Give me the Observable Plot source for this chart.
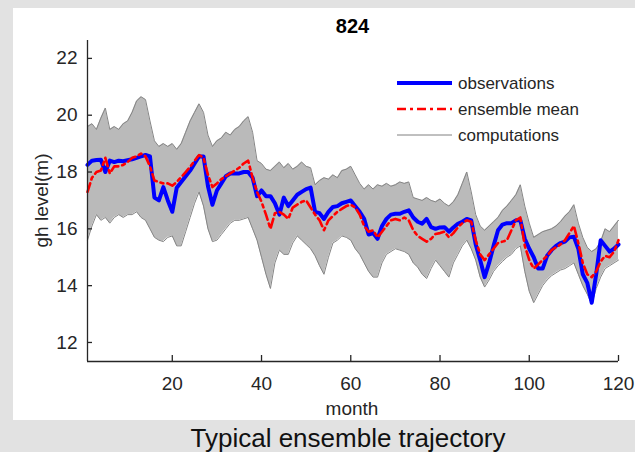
<!DOCTYPE html>
<html>
<head>
<meta charset="utf-8">
<script src="https://cdn.jsdelivr.net/npm/d3@7"></script>
<script src="https://cdn.jsdelivr.net/npm/@observablehq/plot@0.6"></script>
<style>
  body { margin: 0; background: #e2e2e2; }
  #wrap { position: relative; width: 635px; height: 452px; font-family: "Liberation Sans", Arial, sans-serif; }
  #panel { position: absolute; left: 13px; top: 8px; width: 622px; height: 412px; background: #fff; }
  #chart { position: absolute; left: 0; top: 0; }
  #overlay { position: absolute; left: 0; top: 0; pointer-events: none; }
</style>
</head>
<body>
<div id="wrap">
  <div id="panel"></div>
  <div id="chart"></div>
  <svg id="overlay" width="635" height="452" font-family="Liberation Sans, Arial, sans-serif">
    <text x="352.5" y="33" text-anchor="middle" font-size="20" font-weight="bold" fill="#000">824</text>
    <text transform="translate(41,200.5) rotate(-90)" text-anchor="middle" dominant-baseline="central" font-size="19" fill="#262626">gh level(m)</text>
    <text x="352" y="415" text-anchor="middle" font-size="19" fill="#262626">month</text>
    <g id="legend" font-size="17" fill="#262626"></g>
    <text x="348" y="447" text-anchor="middle" font-size="26" fill="#111">Typical ensemble trajectory</text>
  </svg>
</div>
<script>
const months = d3.range(1, 121);

const observations = [
  18.25, 18.40, 18.42, 18.43, 18.00, 18.40, 18.35, 18.40, 18.38, 18.42,
  18.45, 18.50, 18.55, 18.60, 18.55, 17.10, 17.00, 17.47, 17.00, 16.60,
  17.45, 17.65, 17.85, 18.05, 18.30, 18.55, 18.55, 17.50, 16.85, 17.35,
  17.60, 17.85, 17.95, 17.95, 17.95, 18.00, 18.00, 17.80, 17.15, 17.35,
  17.15, 17.15, 16.90, 16.50, 17.10, 16.80, 17.00, 17.20, 17.30, 17.40,
  17.45, 16.60, 16.55, 16.35, 16.60, 16.77, 16.80, 16.90, 16.95, 17.00,
  16.80, 16.60, 16.35, 15.80, 15.85, 15.65, 16.10, 16.35, 16.50, 16.53,
  16.53, 16.60, 16.65, 16.40, 16.25, 16.18, 16.35, 16.06, 16.00, 16.05,
  16.06, 15.90, 16.05, 16.18, 16.25, 16.35, 16.30, 15.45, 14.90, 14.30,
  14.80, 15.40, 15.95, 16.15, 16.20, 16.20, 16.30, 16.30, 15.65, 15.30,
  15.00, 14.60, 14.60, 15.05, 15.25, 15.40, 15.50, 15.55, 15.70, 15.72,
  15.30, 14.40, 14.10, 13.40, 14.40, 15.60, 15.40, 15.20, 15.30, 15.45
];

const ensembleMean = [
  17.30, 17.80, 18.00, 18.05, 18.50, 17.95, 18.20, 18.20, 18.25, 18.35,
  18.50, 18.55, 18.65, 18.55, 18.20, 17.70, 17.65, 17.60, 17.60, 17.52,
  17.65, 17.82, 18.00, 18.18, 18.40, 18.60, 18.50, 17.90, 17.47, 17.60,
  17.75, 17.85, 17.95, 18.05, 18.15, 18.30, 18.40, 17.80, 17.30, 16.95,
  16.50, 16.00, 16.55, 16.60, 16.50, 16.35, 16.75, 16.85, 16.95, 17.00,
  16.75, 16.50, 16.30, 15.95, 16.30, 16.45, 16.60, 16.70, 16.80, 16.85,
  16.75, 16.50, 16.10, 15.90, 15.95, 15.70, 15.90, 16.10, 16.30, 16.35,
  16.30, 16.40, 16.30, 15.95, 15.75, 15.65, 15.55, 15.65, 15.82, 15.85,
  15.90, 15.70, 15.85, 16.05, 16.20, 16.30, 16.25, 15.60, 15.10, 14.90,
  15.10, 15.30, 15.50, 15.55, 15.60, 15.95, 16.30, 16.40, 15.40, 14.90,
  14.60, 14.75, 14.90, 15.05, 15.25, 15.35, 15.45, 15.60, 15.85, 16.10,
  15.50, 14.80, 14.40, 14.30, 14.50, 14.85, 15.05, 15.00, 15.20, 15.60
];

// envelope of the computations (ensemble members)
const computationsUpper = [
  19.60, 19.70, 19.50, 19.90, 20.25, 19.50, 19.60, 19.50, 19.70, 19.80,
  20.10, 20.50, 20.65, 20.55, 19.80, 19.10, 18.90, 19.00, 18.90, 19.00,
  18.80, 19.00, 19.40, 19.80, 20.10, 20.40, 20.10, 19.30, 18.90, 19.10,
  19.20, 19.40, 19.30, 19.50, 19.60, 19.80, 19.95, 19.40, 18.40, 18.30,
  18.10, 18.05, 18.20, 18.35, 18.15, 18.30, 18.10, 18.20, 18.35, 18.20,
  18.15, 17.55, 17.70, 17.80, 17.75, 17.90, 17.80, 18.05, 18.10, 18.20,
  17.90, 17.60, 17.40, 17.55, 17.40, 17.55, 17.50, 17.60, 17.50, 17.55,
  17.65, 17.60, 17.65, 17.10, 17.05, 17.00, 17.10, 17.00, 16.95, 17.05,
  16.90, 16.80, 16.95, 17.20, 17.60, 18.00, 17.30, 16.50, 16.10, 15.95,
  16.10, 16.25, 16.40, 16.65, 16.80, 17.00, 17.20, 17.55, 16.80, 16.20,
  15.70, 15.80, 15.90, 15.95, 16.00, 16.10, 16.25, 16.45, 16.60, 16.85,
  16.20, 15.70, 15.35, 15.20, 15.30, 15.55, 16.00, 15.90, 16.10, 16.30
];

const computationsLower = [
  15.60, 16.10, 16.50, 16.30, 16.40, 16.20, 16.40, 16.50, 16.40, 16.50,
  16.50, 16.60, 16.40, 16.30, 16.00, 15.70, 15.60, 15.55, 15.70, 15.75,
  15.40, 15.40, 15.90, 16.40, 16.90, 17.30, 16.80, 16.00, 15.55, 15.60,
  15.80, 16.00, 16.20, 16.30, 16.30, 16.35, 16.40, 16.00, 15.60, 15.00,
  14.40, 13.90, 14.80, 15.25, 15.10, 15.10, 15.50, 15.75, 15.60, 15.45,
  15.30, 15.05, 14.70, 14.40, 15.00, 15.50, 15.60, 15.75, 15.70, 15.60,
  15.30, 15.10, 14.80, 14.50, 14.30, 14.30, 14.80, 15.10, 15.20, 15.30,
  15.25, 15.20, 15.10, 14.80, 14.65, 14.40, 14.25, 14.60, 14.90, 14.70,
  14.50, 14.30, 14.80, 15.10, 15.40, 15.60, 15.30, 14.90, 14.30, 13.95,
  14.20, 14.50, 14.70, 14.85, 15.00, 15.10, 15.30, 15.40, 14.50, 13.80,
  13.40, 13.70, 14.00, 14.20, 14.35, 14.45, 14.55, 14.60, 14.70, 14.80,
  14.40, 14.00, 13.70, 13.35, 13.90, 14.30, 14.60, 14.70, 14.80, 14.90
];

const xTicks = [20, 40, 60, 80, 100, 120];
const yTicks = [12, 14, 16, 18, 20, 22];
const legendLabels = ["observations", "ensemble mean", "computations"];

const rows = months.map((m, i) => ({
  m,
  obs: observations[i],
  mean: ensembleMean[i],
  hi: computationsUpper[i],
  lo: computationsLower[i]
}));

const axisColor = "#262626";
const yMin = 11.33, yMax = 22.63;
const meanDash = "9,4,3,4";

const chart = Plot.plot({
  width: 635,
  height: 420,
  marginLeft: 87,
  marginRight: 17,
  marginTop: 40,
  marginBottom: 59,
  style: { background: "transparent", fontFamily: "Liberation Sans, Arial, sans-serif", fontSize: "19px", color: axisColor },
  x: { domain: [1, 120] },
  y: { domain: [yMin, yMax] },
  marks: [
    Plot.areaY(rows, { x: "m", y1: "lo", y2: "hi", fill: "#bababa" }),
    Plot.line(rows, { x: "m", y: "hi", stroke: "#858585", strokeWidth: 1 }),
    Plot.line(rows, { x: "m", y: "lo", stroke: "#858585", strokeWidth: 1 }),
    Plot.line(rows, { x: "m", y: "obs", stroke: "#0000ff", strokeWidth: 4, strokeLinejoin: "round" }),
    Plot.line(rows, { x: "m", y: "mean", stroke: "#ff0000", strokeWidth: 2.6, strokeDasharray: meanDash }),
    Plot.ruleX([1], { stroke: axisColor, strokeWidth: 1.3 }),
    Plot.ruleY([yMin], { stroke: axisColor, strokeWidth: 1.3 }),
    Plot.ruleX(xTicks, { stroke: axisColor, strokeWidth: 1.3, insetTop: 315 }),
    Plot.ruleY(yTicks, { stroke: axisColor, strokeWidth: 1.3, insetRight: 526 }),
    Plot.axisX({ ticks: xTicks, tickSize: 0, tickPadding: 15, label: null, fill: axisColor }),
    Plot.axisY({ ticks: yTicks, tickSize: 0, tickPadding: 10, label: null, fill: axisColor })
  ]
});
document.getElementById("chart").appendChild(chart);

// legend (drawn outside the plot scales)
const legendStyles = [
  { stroke: "#0000ff", width: 4, dash: null },
  { stroke: "#ff0000", width: 2.6, dash: meanDash },
  { stroke: "#808080", width: 1, dash: null }
];
const lg = d3.select("#legend");
legendLabels.forEach((t, i) => {
  const y = 83 + i * 26;
  lg.append("line").attr("x1", 397).attr("x2", 452).attr("y1", y).attr("y2", y)
    .attr("stroke", legendStyles[i].stroke).attr("stroke-width", legendStyles[i].width)
    .attr("stroke-dasharray", legendStyles[i].dash);
  lg.append("text").attr("x", 458).attr("y", y).attr("dominant-baseline", "central").text(t);
});
</script>
</body>
</html>
